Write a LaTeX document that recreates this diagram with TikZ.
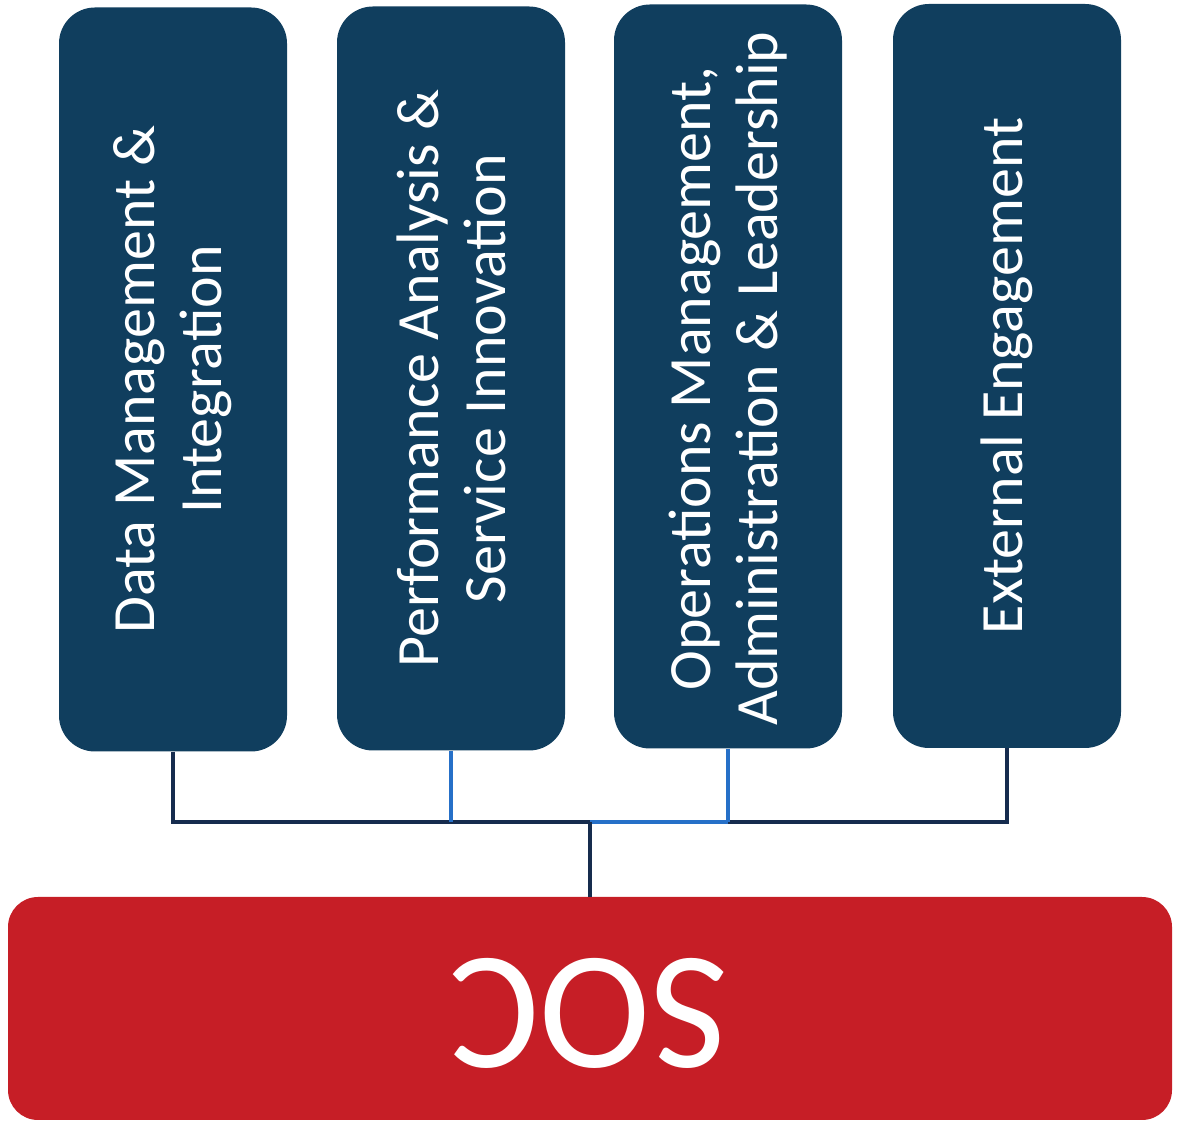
\documentclass[tikz,border=0pt]{standalone}
\usepackage{fontspec}
\setmainfont{Carlito}
\definecolor{boxblue}{RGB}{16,62,94}
\definecolor{socred}{RGB}{198,30,38}
\definecolor{navyline}{RGB}{22,44,78}
\definecolor{brightline}{RGB}{38,112,200}
\tikzset{
  x=1pt, y=1pt,
  bluebox/.style={fill=boxblue, draw=none, rounded corners=36pt, minimum width=228pt, minimum height=744pt, inner sep=0pt},
  vtext/.style={rotate=90, text=white, align=center, font=\fontsize{60}{67}\selectfont, inner sep=0pt},
  redbox/.style={fill=socred, draw=none, rounded corners=30pt, minimum width=1164pt, minimum height=223pt, inner sep=0pt},
  darkwire/.style={draw=navyline, line width=4pt},
  lightwire/.style={draw=brightline, line width=4pt},
}
\begin{document}
\begin{tikzpicture}
\useasboundingbox (0,0) rectangle (1178,1124);
\node[bluebox] (b1) at (173,744.5) {};
\node[bluebox] (b2) at (451,745.5) {};
\node[bluebox] (b3) at (728,747.5) {};
\node[bluebox] (b4) at (1007,748) {};
\node[vtext] (t1) at (b1.center) {Data Management \&\\Integration};
\node[vtext] (t2) at (b2.center) {Performance Analysis \&\\Service Innovation};
\node[vtext] (t3) at ([yshift=-2pt]b3.center) {Operations Management,\\Administration \& Leadership};
\node[vtext] (t4) at (b4.center) {External Engagement};
\node[redbox] (soc) at (590,115.5) {};
\node[rotate=180, text=white, font=\fontsize{168}{168}\selectfont, inner sep=0pt] (soct) at (589,111) {SOC};
\coordinate (j) at (590,302);
\draw[darkwire] (b1.south) -- (b1.south |- j) -- (b4.south |- j) -- (b4.south);
\draw[lightwire] (b2.south) -- (b2.south |- j);
\draw[lightwire] (b3.south) -- (b3.south |- j);
\draw[lightwire] (j) -- (b3.south |- j);
\draw[darkwire] (j) -- (soc.north);
\end{tikzpicture}
\end{document}
